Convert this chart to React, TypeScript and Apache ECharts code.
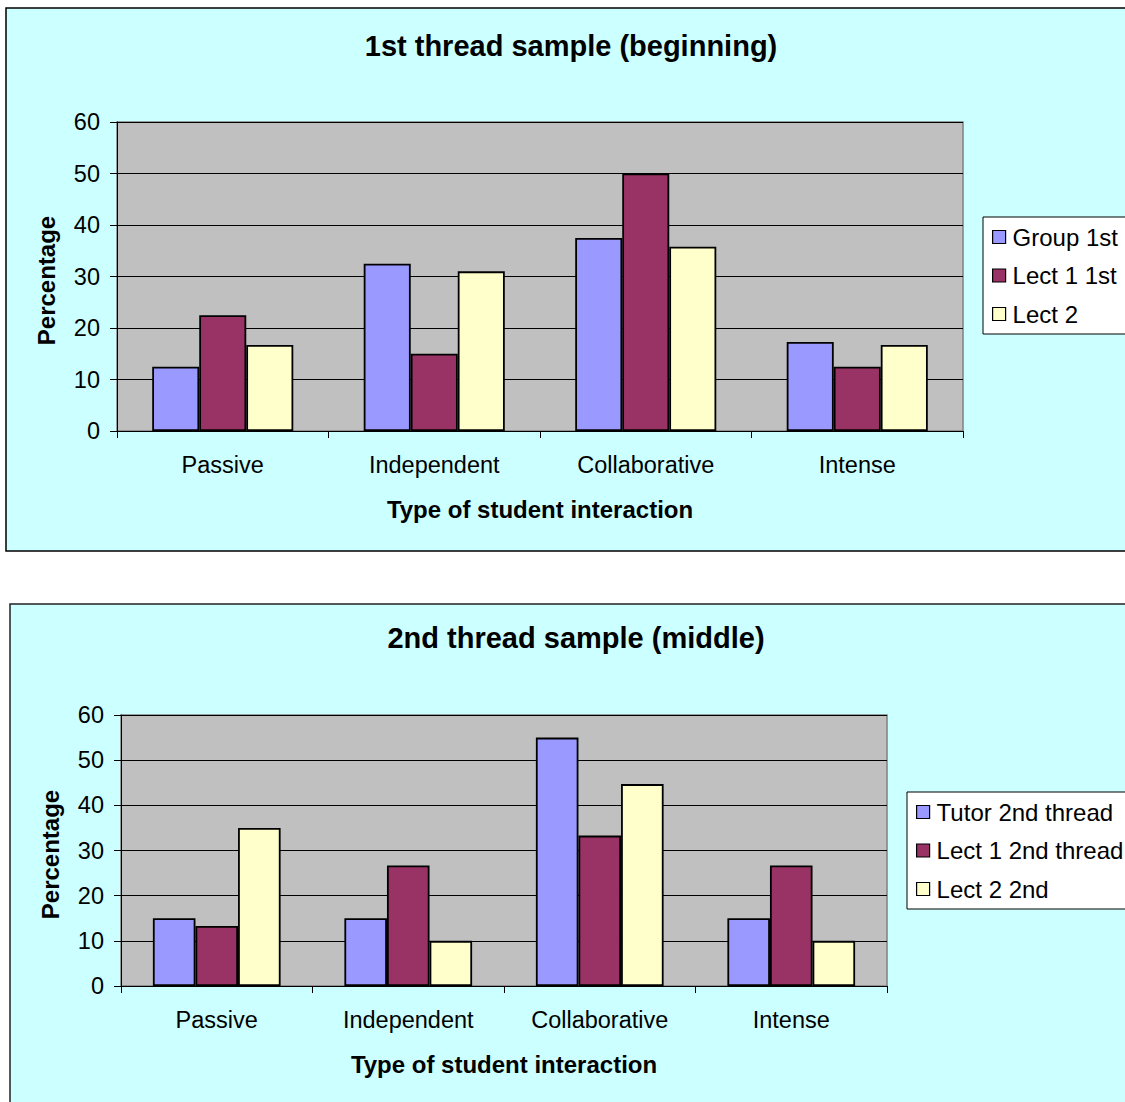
import React, { useEffect, useRef } from "react";
import * as echarts from "echarts";

const categories = ["Passive", "Independent", "Collaborative", "Intense"];
const yTicks = { min: 0, max: 60, interval: 10 };

const chart1Title = "1st thread sample (beginning)";
const chart1Names = ["Group 1st", "Lect 1 1st", "Lect 2"];
const group1st = [12.5, 32.5, 37.5, 17.3];
const lect1First = [22.5, 15, 50, 12.5];
const lect2First = [16.7, 31, 35.8, 16.7];

const chart2Title = "2nd thread sample (middle)";
const chart2Names = ["Tutor 2nd thread", "Lect 1 2nd thread", "Lect 2 2nd"];
const tutor2nd = [15, 15, 55, 15];
const lect1Second = [13.3, 26.7, 33.3, 26.7];
const lect2Second = [35, 10, 44.7, 10];

const xName = "Type of student interaction";
const yName = "Percentage";

const colors = ["#9999FF", "#993366", "#FFFFCC"];
const FONT = "Liberation Sans";

export default function App() {
  const ref = useRef<HTMLDivElement>(null);
  useEffect(() => {
    if (!ref.current) return;
    const chart = echarts.init(ref.current, null, { renderer: "svg" });

    const makeX = (gridIndex: number) => ({
      type: "category",
      gridIndex,
      data: categories,
      name: xName,
      nameLocation: "middle",
      nameGap: 66,
      nameTextStyle: { fontSize: 24, fontWeight: "bold", color: "#000", fontFamily: FONT },
      axisLine: { lineStyle: { color: "#000", width: 1 } },
      axisTick: { show: true, length: 7, lineStyle: { color: "#000" } },
      axisLabel: { fontSize: 23.5, color: "#000", margin: 22, fontFamily: FONT },
      splitLine: { show: false },
    });
    const makeY = (gridIndex: number) => ({
      type: "value",
      gridIndex,
      min: yTicks.min,
      max: yTicks.max,
      interval: yTicks.interval,
      name: yName,
      nameLocation: "middle",
      nameGap: 59,
      nameTextStyle: { fontSize: 24, fontWeight: "bold", color: "#000", fontFamily: FONT, padding: [0, 0, 0, -8] },
      axisLine: { show: true, lineStyle: { color: "#000", width: 1 } },
      axisTick: { show: true, length: 7, lineStyle: { color: "#000" } },
      axisLabel: { fontSize: 23.5, color: "#000", margin: 17, fontFamily: FONT },
      splitLine: { show: true, lineStyle: { color: "#000", width: 1 } },
    });
    const makeSeries = (name: string, data: number[], idx: number, axis: number) => ({
      type: "bar",
      name,
      data,
      xAxisIndex: axis,
      yAxisIndex: axis,
      barGap: "0%",
      barCategoryGap: "33.3%",
      itemStyle: { color: colors[idx], borderColor: "#000", borderWidth: 1.8 },
    });
    const legendBase = {
      orient: "vertical",
      icon: "rect",
      itemWidth: 13,
      itemHeight: 13,
      itemGap: 14.5,
      backgroundColor: "#FFFFFF",
      borderColor: "#000",
      borderWidth: 1,
      padding: [8, 60, 8, 9],
      selectedMode: false,
      itemStyle: { borderColor: "#000", borderWidth: 1.2 },
      textStyle: { fontSize: 24, color: "#000", fontFamily: FONT, lineHeight: 24, padding: [0, 0, 0, 2] },
    };

    chart.setOption({
      animation: false,
      textStyle: { fontFamily: FONT },
      graphic: [
        {
          type: "rect",
          z: -10,
          shape: { x: 6, y: 8, width: 1200, height: 543 },
          style: { fill: "#CCFFFF", stroke: "#000", lineWidth: 1.5 },
        },
        {
          type: "rect",
          z: -10,
          shape: { x: 10, y: 604, width: 1200, height: 560 },
          style: { fill: "#CCFFFF", stroke: "#222", lineWidth: 1.5 },
        },
      ],
      title: [
        {
          text: chart1Title,
          left: 571,
          top: 31,
          padding: 0,
          textAlign: "center",
          textStyle: { fontSize: 29, fontWeight: "bold", color: "#000", fontFamily: FONT },
        },
        {
          text: chart2Title,
          left: 576,
          top: 623,
          padding: 0,
          textAlign: "center",
          textStyle: { fontSize: 29, fontWeight: "bold", color: "#000", fontFamily: FONT },
        },
      ],
      legend: [
        { ...legendBase, data: chart1Names, left: 983, top: 217 },
        { ...legendBase, data: chart2Names, left: 907, top: 792 },
      ],
      grid: [
        {
          left: 117,
          top: 122,
          width: 846,
          height: 309,
          show: true,
          backgroundColor: "#C0C0C0",
          borderColor: "#808080",
          borderWidth: 1.5,
        },
        {
          left: 121,
          top: 715,
          width: 766,
          height: 271,
          show: true,
          backgroundColor: "#C0C0C0",
          borderColor: "#808080",
          borderWidth: 1.5,
        },
      ],
      xAxis: [makeX(0), makeX(1)],
      yAxis: [makeY(0), makeY(1)],
      series: [
        makeSeries(chart1Names[0], group1st, 0, 0),
        makeSeries(chart1Names[1], lect1First, 1, 0),
        makeSeries(chart1Names[2], lect2First, 2, 0),
        makeSeries(chart2Names[0], tutor2nd, 0, 1),
        makeSeries(chart2Names[1], lect1Second, 1, 1),
        makeSeries(chart2Names[2], lect2Second, 2, 1),
      ],
    });
    return () => chart.dispose();
  }, []);

  return (
    <div
      ref={ref}
      style={{ position: "absolute", left: 0, top: 0, width: 1125, height: 1102 }}
    />
  );
}
